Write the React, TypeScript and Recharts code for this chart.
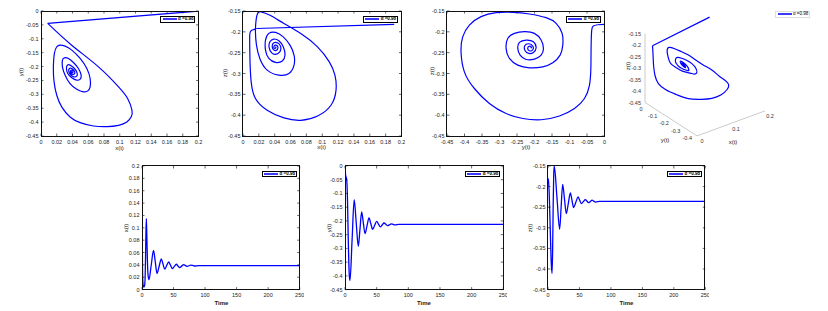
import React from 'react';
import { LineChart, Line, XAxis, YAxis, LabelList } from 'recharts';

const FONT = '"Liberation Sans", Arial, Helvetica, sans-serif';
const BLUE = '#0000ff';

// ---------- tick labels ----------
const ticksX = [0, 0.02, 0.04, 0.06, 0.08, 0.1, 0.12, 0.14, 0.16, 0.18, 0.2];
const ticksY = [-0.45, -0.4, -0.35, -0.3, -0.25, -0.2, -0.15, -0.1, -0.05, 0];
const ticksZ = [-0.45, -0.4, -0.35, -0.3, -0.25, -0.2, -0.15];
const ticksTime = [0, 50, 100, 150, 200, 250];
const ticks3dX = [0, 0.1, 0.2];
const ticks3dY = [0, -0.1, -0.2, -0.3, -0.4, -0.45];
const ticks3dZ = [-0.45, -0.4, -0.35, -0.3, -0.25, -0.2, -0.15];

// ---------- (a) x(t)–y(t) phase portrait ----------
const xyStart = [[0.196, -0.001], [0.0085, -0.0445]];
const xyOrbit = [
  [0.0085, -0.0445], [0.039, -0.123], [0.073, -0.201], [0.0985, -0.273], [0.11, -0.315],
  [0.1155, -0.357], [0.1146, -0.381], [0.109, -0.3995], [0.0985, -0.4115], [0.0837, -0.4163],
  [0.0667, -0.4139], [0.0497, -0.4019], [0.0369, -0.3814], [0.0263, -0.3453], [0.02, -0.3032],
  [0.0166, -0.2551], [0.0157, -0.2009], [0.017, -0.1528], [0.02, -0.1287], [0.0242, -0.1227],
  [0.0306, -0.1263], [0.0391, -0.1408], [0.0497, -0.1708], [0.0582, -0.2069], [0.0624, -0.243],
  [0.0624, -0.2731], [0.0594, -0.2876], [0.0539, -0.2912], [0.0454, -0.2816], [0.0369, -0.2611],
  [0.0306, -0.231], [0.0272, -0.2009], [0.0272, -0.1769], [0.0297, -0.1685], [0.0348, -0.1708],
  [0.0412, -0.1853], [0.0475, -0.2069], [0.051, -0.231], [0.0497, -0.2454], [0.0454, -0.2491],
  [0.0391, -0.2406], [0.034, -0.225], [0.0323, -0.2069], [0.0335, -0.1949], [0.0369, -0.1949],
  [0.0425, -0.2069], [0.0458, -0.2226], [0.0454, -0.2346], [0.0416, -0.237], [0.0374, -0.2286],
  [0.0352, -0.2166], [0.0361, -0.2069], [0.0391, -0.2069], [0.0425, -0.2166], [0.0425, -0.2262],
  [0.0395, -0.2274], [0.0374, -0.2202], [0.0382, -0.213], [0.0403, -0.2154], [0.0403, -0.2214],
  [0.0386, -0.2202], [0.039, -0.2166],
];

// ---------- (b) x(t)–z(t) phase portrait ----------
const xzStart = [[0.1907, -0.182], [0.017, -0.192]];
const xzOrbit = [
  [0.017, -0.192], [0.0105, -0.197], [0.0085, -0.207], [0.0085, -0.235], [0.009, -0.28],
  [0.0105, -0.323], [0.0157, -0.3598], [0.0305, -0.388], [0.0517, -0.4066], [0.0729, -0.4123],
  [0.0941, -0.402], [0.111, -0.3762], [0.1174, -0.34], [0.116, -0.304], [0.1089, -0.272],
  [0.094, -0.236], [0.0729, -0.204], [0.0517, -0.18], [0.0347, -0.161], [0.0229, -0.152],
  [0.0186, -0.155], [0.0165, -0.172], [0.0157, -0.2], [0.017, -0.232], [0.0212, -0.264],
  [0.0305, -0.292], [0.0453, -0.304], [0.058, -0.3], [0.0644, -0.28], [0.0644, -0.256],
  [0.0593, -0.232], [0.0508, -0.212], [0.0411, -0.2013], [0.0326, -0.2037], [0.0284, -0.22],
  [0.0284, -0.2437], [0.0326, -0.2637], [0.0411, -0.2733], [0.0496, -0.2701], [0.053, -0.2557],
  [0.0508, -0.2357], [0.0453, -0.2213], [0.039, -0.2173], [0.0339, -0.2237], [0.033, -0.238],
  [0.036, -0.25], [0.0411, -0.254], [0.0466, -0.2477], [0.0475, -0.2357], [0.0441, -0.2269],
  [0.039, -0.2261], [0.0369, -0.2333], [0.0381, -0.2421], [0.042, -0.2445], [0.0441, -0.2381],
  [0.0424, -0.2325], [0.0394, -0.2341], [0.0398, -0.2397], [0.0415, -0.238], [0.041, -0.236],
];

// ---------- (c) y(t)–z(t) phase portrait ----------
const yzStart = [[0, -0.182], [-0.02, -0.183]];
const yzOrbit = [
  [-0.02, -0.183], [-0.032, -0.186], [-0.0365, -0.196], [-0.038, -0.224], [-0.0385, -0.256],
  [-0.039, -0.288], [-0.0429, -0.328], [-0.0572, -0.36], [-0.0858, -0.384], [-0.1287, -0.402],
  [-0.1811, -0.411], [-0.2335, -0.408], [-0.2812, -0.396], [-0.3289, -0.372], [-0.3718, -0.336],
  [-0.4004, -0.296], [-0.4099, -0.248], [-0.4051, -0.212], [-0.386, -0.184], [-0.3527, -0.1636],
  [-0.3098, -0.154], [-0.2621, -0.1532], [-0.2145, -0.1572], [-0.1668, -0.166], [-0.1382, -0.1797],
  [-0.1211, -0.2037], [-0.1192, -0.2318], [-0.1268, -0.2559], [-0.1478, -0.2743], [-0.1763, -0.2839],
  [-0.2145, -0.2863], [-0.2478, -0.2799], [-0.2716, -0.2639], [-0.2812, -0.2398], [-0.2764, -0.2158],
  [-0.2574, -0.2037], [-0.2288, -0.1997], [-0.2002, -0.2037], [-0.1811, -0.2198], [-0.1744, -0.2398],
  [-0.1811, -0.2559], [-0.2002, -0.2655], [-0.224, -0.2663], [-0.2411, -0.2559], [-0.2478, -0.2398],
  [-0.2431, -0.2254], [-0.224, -0.2198], [-0.203, -0.2238], [-0.1954, -0.2382], [-0.203, -0.2494],
  [-0.2164, -0.2518], [-0.2269, -0.2454], [-0.2278, -0.2334], [-0.2164, -0.2286], [-0.2049, -0.2342],
  [-0.2049, -0.243], [-0.2145, -0.2454], [-0.2192, -0.2382], [-0.2126, -0.2342], [-0.2087, -0.2382],
  [-0.211, -0.237],
];

// ---------- (d) 3-D trajectory (x, y, z) ----------
const xyzStart = [[0.19, 0, -0.182], [0.0085, -0.04, -0.195]];
const xyzOrbit = [
  [0.0085, -0.04, -0.195], [0.01, -0.039, -0.224], [0.011, -0.039, -0.256], [0.012, -0.04, -0.288],
  [0.015, -0.043, -0.328], [0.02, -0.057, -0.36], [0.032, -0.086, -0.384], [0.05, -0.129, -0.402],
  [0.066, -0.181, -0.411], [0.087, -0.2335, -0.408], [0.101, -0.281, -0.396], [0.111, -0.329, -0.372],
  [0.115, -0.372, -0.336], [0.108, -0.4, -0.296], [0.08, -0.41, -0.248], [0.06, -0.405, -0.212],
  [0.04, -0.386, -0.184], [0.027, -0.353, -0.164], [0.021, -0.31, -0.154], [0.017, -0.262, -0.153],
  [0.016, -0.2145, -0.157], [0.017, -0.167, -0.166], [0.02, -0.138, -0.18], [0.024, -0.121, -0.204],
  [0.028, -0.119, -0.232], [0.032, -0.127, -0.256], [0.042, -0.148, -0.274], [0.05, -0.176, -0.284],
  [0.06, -0.2145, -0.286], [0.062, -0.248, -0.28], [0.06, -0.272, -0.264], [0.054, -0.281, -0.24],
  [0.044, -0.276, -0.216], [0.036, -0.257, -0.204], [0.03, -0.229, -0.2], [0.027, -0.2, -0.204],
  [0.028, -0.181, -0.22], [0.032, -0.174, -0.24], [0.038, -0.181, -0.256], [0.045, -0.2, -0.2655],
  [0.05, -0.224, -0.266], [0.047, -0.241, -0.256], [0.042, -0.248, -0.24], [0.036, -0.243, -0.225],
  [0.034, -0.224, -0.22], [0.035, -0.203, -0.224], [0.039, -0.195, -0.238], [0.043, -0.203, -0.249],
  [0.044, -0.216, -0.252], [0.042, -0.227, -0.245], [0.038, -0.228, -0.233], [0.037, -0.216, -0.229],
  [0.038, -0.205, -0.234], [0.041, -0.205, -0.243], [0.042, -0.2145, -0.245], [0.04, -0.219, -0.238],
  [0.039, -0.213, -0.234], [0.04, -0.21, -0.237],
];

// ---------- (e) x(t) vs time ----------
const timeX = [0, 0.3, 0.7, 1.2, 2, 3, 4, 4.8, 5.5, 6.2, 6.9, 7.6, 8.5, 9.5, 11, 14.65, 18.3, 21.05,
  23.8, 27.2, 30.6, 33.3, 36, 39.15, 42.3, 45.15, 48, 51.2, 54.4, 57.05, 59.7, 62.85, 66, 68.75,
  71.5, 74.5, 77.5, 80.25, 83, 90, 250];
const valX = [0.19, 0.12, 0.05, 0.015, 0.006, 0.004, 0.006, 0.015, 0.045, 0.09, 0.115, 0.09, 0.05,
  0.025, 0.016, 0.0398, 0.0636, 0.0448, 0.026, 0.0378, 0.0496, 0.0413, 0.033, 0.0389, 0.0447,
  0.0394, 0.034, 0.0375, 0.041, 0.0383, 0.0356, 0.038, 0.0405, 0.039, 0.0375, 0.0386, 0.0397,
  0.039, 0.0382, 0.0388, 0.0388];

// ---------- (f) y(t) vs time ----------
const timeY = [0, 0.5, 1.2, 2, 3, 4, 5, 6, 7, 7.9, 11.2, 14.5, 17.75, 21, 23.65, 26.3, 28.95, 31.6,
  34.75, 37.9, 40.8, 43.7, 46.85, 50, 52.9, 55.8, 58.7, 61.6, 64.5, 67.4, 70.3, 73.2, 76.1, 79, 85, 250];
const valY = [0, -0.02, -0.038, -0.042, -0.06, -0.13, -0.25, -0.35, -0.405, -0.416, -0.269, -0.1226,
  -0.2075, -0.2925, -0.23, -0.1675, -0.207, -0.2464, -0.218, -0.1893, -0.21, -0.2306, -0.216,
  -0.2015, -0.2118, -0.222, -0.2148, -0.2075, -0.2124, -0.2172, -0.2138, -0.2105, -0.2125,
  -0.2145, -0.2127, -0.2127];

// ---------- (g) z(t) vs time ----------
const timeZ = [0, 1, 2, 3.5, 5, 6.4, 7.3, 8.2, 9.1, 10, 14.25, 18.5, 20.9, 23.3, 26.2, 29.1, 32.3,
  35.5, 38.15, 40.8, 44.25, 47.7, 50.35, 53, 56.15, 59.3, 61.95, 64.6, 67.3, 70, 72.75, 75.5, 82, 250];
const valZ = [-0.18, -0.19, -0.22, -0.3, -0.38, -0.411, -0.36, -0.25, -0.17, -0.15, -0.2268, -0.3036,
  -0.249, -0.1945, -0.23, -0.2656, -0.2405, -0.2155, -0.2333, -0.251, -0.238, -0.225, -0.2332,
  -0.2413, -0.2365, -0.2316, -0.2353, -0.2389, -0.236, -0.233, -0.2352, -0.2375, -0.2357, -0.2357];

// ---------- helpers ----------
const fmt = (v: number) => String(Math.round(v * 100) / 100);
const pairs = (arr: number[][]) => arr.map(([x, y]) => ({ x, y }));
const zipT = (t: number[], v: number[]) => t.map((x, i) => ({ x, y: v[i] }));
const project = ([x, y, z]: number[]) => ({ u: 340 * x - 115.6 * y, v: 125 * x + 74.2 * y + 230 * z });

const TICK_LEN = 2.5;
const TICK_FS = 5.5;

function Title({ x, y, text, rotate = false, bold = false, size = 6 }: any) {
  return (
    <div style={{
      position: 'absolute', left: x, top: y, whiteSpace: 'nowrap', lineHeight: 1,
      transform: `translate(-50%,-50%)${rotate ? ' rotate(-90deg)' : ''}`,
      fontFamily: FONT, fontSize: size, fontWeight: bold ? 700 : 400, color: '#222',
    }}>{text}</div>
  );
}

function LegendBox({ left, top, framed = true, bold = true }: any) {
  return (
    <div style={{
      position: 'absolute', left, top, width: 35, height: 6.5, boxSizing: 'border-box',
      border: framed ? '0.8px solid #000' : '0.6px solid #ddd', background: '#fff',
      display: 'flex', alignItems: 'center', fontFamily: FONT,
    }}>
      <div style={{ width: 14, height: 1.6, background: '#3a3aff', marginLeft: 1.5 }} />
      <span style={{ fontSize: 4.5, marginLeft: 1.5, whiteSpace: 'nowrap', lineHeight: 1, fontWeight: bold ? 700 : 400 }}>α =0.98</span>
    </div>
  );
}

const YW = 26, XH = 14, MT = 4, MR = 4;

// bottom-axis tick: label below, inward tick marks on bottom and top edges of the box
const makeXTick = (top: number, bottom: number) => (props: any) => {
  const { x, payload } = props;
  return (
    <g>
      <line x1={x} x2={x} y1={bottom} y2={bottom - TICK_LEN} stroke="#000" strokeWidth={0.6} />
      <line x1={x} x2={x} y1={top} y2={top + TICK_LEN} stroke="#000" strokeWidth={0.6} />
      <text x={x} y={bottom + 5.5} textAnchor="middle" dominantBaseline="central"
        fontSize={TICK_FS} fontFamily={FONT} fill="#222">{fmt(payload.value)}</text>
    </g>
  );
};
// left-axis tick: label left, inward tick marks on left and right edges of the box
const makeYTick = (left: number, right: number) => (props: any) => {
  const { y, payload } = props;
  return (
    <g>
      <line x1={left} x2={left + TICK_LEN} y1={y} y2={y} stroke="#000" strokeWidth={0.6} />
      <line x1={right} x2={right - TICK_LEN} y1={y} y2={y} stroke="#000" strokeWidth={0.6} />
      <text x={left - 2.5} y={y} textAnchor="end" dominantBaseline="central"
        fontSize={TICK_FS} fontFamily={FONT} fill="#222">{fmt(payload.value)}</text>
    </g>
  );
};

function Panel2D({ left, top, w, h, xDomain, yDomain, xTicks, yTicks, series, sw = 1.2 }: any) {
  const pTop = MT, pBottom = MT + h, pLeft = YW, pRight = YW + w;
  return (
    <>
      <div style={{ position: 'absolute', left: left - YW, top: top - MT }}>
        <LineChart width={w + YW + MR} height={h + MT + XH} margin={{ top: MT, right: MR, left: 0, bottom: 0 }}>
          <XAxis xAxisId="b" type="number" dataKey="x" domain={xDomain} ticks={xTicks} interval={0}
            allowDataOverflow height={XH} tickSize={0} tickLine={false} axisLine={false}
            tick={makeXTick(pTop, pBottom)} />
          <YAxis yAxisId="l" type="number" dataKey="y" domain={yDomain} ticks={yTicks} interval={0}
            allowDataOverflow width={YW} tickSize={0} tickLine={false} axisLine={false}
            tick={makeYTick(pLeft, pRight)} />
          {series.map((s: any, i: number) => (
            <Line key={i} xAxisId="b" yAxisId="l" data={s.data} dataKey="y" type={s.curve}
              stroke={BLUE} strokeWidth={sw} dot={false} isAnimationActive={false} />
          ))}
        </LineChart>
      </div>
      <div style={{
        position: 'absolute', left: left - 0.5, top: top - 0.5, width: w + 1, height: h + 1,
        boxSizing: 'border-box', border: '1px solid #111', pointerEvents: 'none',
      }} />
    </>
  );
}

const axisLabel = (dx: number, dy: number, anchor: string) => (props: any) => {
  const { x, y, value } = props;
  if (value === '' || value == null) return null;
  return (
    <text x={x + dx} y={y + dy} textAnchor={anchor} dominantBaseline="central"
      fontSize={5.5} fontFamily={FONT} fill="#333">{value}</text>
  );
};

function Panel3D() {
  const traj0 = xyzStart.map(project);
  const traj = xyzOrbit.map(project);
  const zAx = ticks3dZ.map((z) => ({ ...project([0, 0, z]), label: fmt(z) }));
  const yAx = ticks3dY.map((y) => ({ ...project([0, y, -0.45]), label: y === -0.45 ? '' : fmt(y) }));
  const xAx = ticks3dX.map((x) => ({ ...project([x, -0.45, -0.45]), label: fmt(x) }));
  const axisProps = { dataKey: 'v', type: 'linear' as const, stroke: '#a8a8a8', strokeWidth: 0.6, dot: false, isAnimationActive: false };
  return (
    <div style={{ position: 'absolute', left: 610, top: 0 }}>
      <LineChart width={218} height={150} margin={{ top: 0, right: 0, left: 0, bottom: 0 }}>
        <XAxis type="number" dataKey="u" domain={[-35, 183]} hide allowDataOverflow />
        <YAxis type="number" domain={[-151, -1]} hide allowDataOverflow />
        <Line data={zAx} {...axisProps}>
          <LabelList dataKey="label" content={axisLabel(-4, 0, 'end')} />
        </Line>
        <Line data={yAx} {...axisProps}>
          <LabelList dataKey="label" content={axisLabel(-4, 6, 'middle')} />
        </Line>
        <Line data={xAx} {...axisProps}>
          <LabelList dataKey="label" content={axisLabel(5, 5.5, 'middle')} />
        </Line>
        <Line data={traj0} dataKey="v" type="linear" stroke={BLUE} strokeWidth={1.2} dot={false} isAnimationActive={false} />
        <Line data={traj} dataKey="v" type="natural" stroke={BLUE} strokeWidth={1.2} dot={false} isAnimationActive={false} />
      </LineChart>
    </div>
  );
}

export default function App() {
  const P1 = { left: 41, top: 11, w: 157.5, h: 125 };
  const P2 = { left: 242.7, top: 11, w: 158.5, h: 125 };
  const P3 = { left: 446.7, top: 11, w: 157.5, h: 125 };
  const P5 = { left: 142.3, top: 165.7, w: 157.7, h: 123.6 };
  const P6 = { left: 345, top: 165.7, w: 158.3, h: 123.6 };
  const P7 = { left: 547.7, top: 165.7, w: 157.3, h: 123.6 };
  const leg = (p: any) => ({ left: p.left + p.w - 38.5, top: p.top + 5 });
  return (
    <div style={{ position: 'absolute', left: 0, top: 0, width: 828, height: 311, background: '#fff', overflow: 'hidden' }}>
      <Panel2D {...P1} xDomain={[0, 0.2]} yDomain={[-0.45, 0]} xTicks={ticksX} yTicks={ticksY}
        series={[{ data: pairs(xyStart), curve: 'linear' }, { data: pairs(xyOrbit), curve: 'natural' }]} />
      <Panel2D {...P2} xDomain={[0, 0.2]} yDomain={[-0.45, -0.15]} xTicks={ticksX} yTicks={ticksZ}
        series={[{ data: pairs(xzStart), curve: 'linear' }, { data: pairs(xzOrbit), curve: 'natural' }]} />
      <Panel2D {...P3} xDomain={[-0.45, 0]} yDomain={[-0.45, -0.15]} xTicks={ticksY} yTicks={ticksZ}
        series={[{ data: pairs(yzStart), curve: 'linear' }, { data: pairs(yzOrbit), curve: 'natural' }]} />
      <Panel3D />
      <Panel2D {...P5} xDomain={[0, 250]} yDomain={[0, 0.2]} xTicks={ticksTime} yTicks={ticksX} sw={1.3}
        series={[{ data: zipT(timeX, valX), curve: 'monotone' }]} />
      <Panel2D {...P6} xDomain={[0, 250]} yDomain={[-0.45, 0]} xTicks={ticksTime} yTicks={ticksY} sw={1.3}
        series={[{ data: zipT(timeY, valY), curve: 'monotone' }]} />
      <Panel2D {...P7} xDomain={[0, 250]} yDomain={[-0.45, -0.15]} xTicks={ticksTime} yTicks={ticksZ} sw={1.3}
        series={[{ data: zipT(timeZ, valZ), curve: 'monotone' }]} />

      <LegendBox {...leg(P1)} />
      <LegendBox {...leg(P2)} />
      <LegendBox {...leg(P3)} />
      <LegendBox left={775} top={11} framed={false} bold={false} />
      <LegendBox {...leg(P5)} />
      <LegendBox {...leg(P6)} />
      <LegendBox {...leg(P7)} />

      <Title x={119.5} y={147.5} text="x(t)" />
      <Title x={21} y={72} text="y(t)" rotate />
      <Title x={321.7} y={146.5} text="x(t)" />
      <Title x={225} y={73} text="z(t)" rotate />
      <Title x={526} y={147} text="y(t)" />
      <Title x={431.7} y={71} text="z(t)" rotate />
      <Title x={628} y={66} text="z(t)" rotate />
      <Title x={665} y={140} text="y(t)" />
      <Title x={733} y={141.5} text="x(t)" />
      <Title x={221.5} y={302.5} text="Time" bold />
      <Title x={126} y={227.5} text="x(t)" rotate />
      <Title x={424} y={302.5} text="Time" bold />
      <Title x={328.5} y={227.5} text="y(t)" rotate />
      <Title x={626.5} y={302.5} text="Time" bold />
      <Title x={530} y={228} text="z(t)" rotate />
    </div>
  );
}
